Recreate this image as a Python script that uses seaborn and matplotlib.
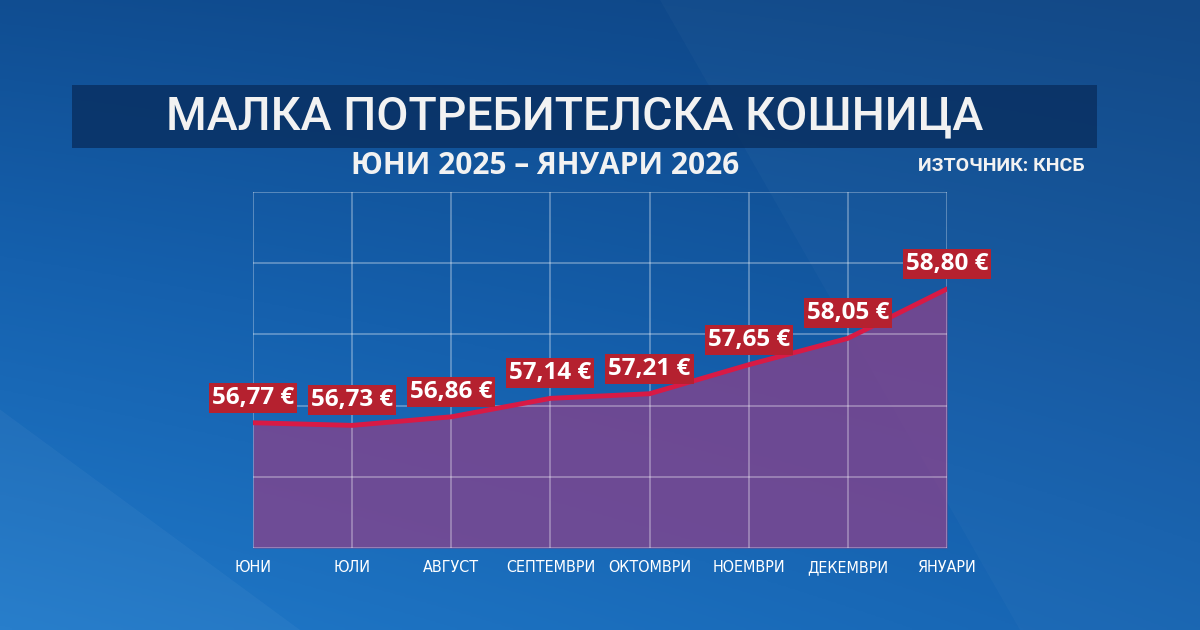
import numpy as np
import pandas as pd
import matplotlib.pyplot as plt
import matplotlib.patches as mpatches
from matplotlib.colors import LinearSegmentedColormap
import seaborn as sns

import warnings
warnings.filterwarnings("ignore")

# Data
months = ['ЮНИ', 'ЮЛИ', 'АВГУСТ', 'СЕПТЕМВРИ', 'ОКТОМВРИ', 'НОЕМВРИ', 'ДЕКЕМВРИ', 'ЯНУАРИ']
prices = [56.77, 56.73, 56.86, 57.14, 57.21, 57.65, 58.05, 58.80]
price_labels = ['56,77 €', '56,73 €', '56,86 €', '57,14 €', '57,21 €', '57,65 €', '58,05 €', '58,80 €']

title = 'МАЛКА ПОТРЕБИТЕЛСКА КОШНИЦА'
subtitle = 'ЮНИ 2025 – ЯНУАРИ 2026'
source = 'ИЗТОЧНИК: КНСБ'

df = pd.DataFrame({'idx': range(len(months)), 'month': months, 'price': prices})

sns.set_style('white')
plt.rcParams['font.family'] = ['Roboto', 'DejaVu Sans']

fig = plt.figure(figsize=(12, 6.3), dpi=100)

# Background gradient
bg = fig.add_axes([0, 0, 1, 1])
yy, xx = np.mgrid[0:1:200j, 0:1:400j]
t = 0.55 * yy + 0.25 * (1 - xx) * yy + 0.15 * (1 - xx)
cmap_bg = LinearSegmentedColormap.from_list('bg', ['#0e4585', '#1560ad', '#2079c9'])
bg.imshow(t, cmap=cmap_bg, aspect='auto', extent=[0, 1, 0, 1], origin='upper')
# faint facets
bg.add_patch(mpatches.Polygon([[0.55, 1], [0.85, 0.0], [1, 0.0], [1, 1]], closed=True,
                              color='white', alpha=0.025, lw=0))
bg.add_patch(mpatches.Polygon([[0, 0.35], [0.25, 0.0], [0, 0.0]], closed=True,
                              color='white', alpha=0.04, lw=0))
bg.set_xlim(0, 1)
bg.set_ylim(0, 1)
bg.axis('off')

# Title banner
bg.add_patch(mpatches.Rectangle((72 / 1200, 1 - 148 / 630), (1097 - 72) / 1200, 63 / 630,
                                color='#082c5c', alpha=0.75, lw=0))
bg.text(575 / 1200, 1 - 116 / 630, title, color='#f2f2f2', fontsize=33.5, fontweight='medium',
        ha='center', va='center')
bg.text(545 / 1200, 1 - 166 / 630, subtitle, color='#f2f2f2', fontsize=21.5, fontweight='bold',
        family=['Open Sans', 'DejaVu Sans'], ha='center', va='center')
bg.text(1085 / 1200, 1 - 166 / 630, source, color='#f2f2f2', fontsize=14, fontweight='bold',
        ha='right', va='center')

# Main chart
ax = fig.add_axes([253 / 1200, 1 - 548 / 630, (947 - 253) / 1200, (548 - 192) / 630])
ax.patch.set_alpha(0)
ymin, ymax = 54.87, 60.27
ax.set_xlim(0, len(months) - 1)
ax.set_ylim(ymin, ymax)

ax.fill_between(df['idx'], df['price'], ymin, color='#86438c', alpha=0.78, lw=0, zorder=1)
sns.lineplot(data=df, x='idx', y='price', ax=ax, color='#d81a45', lw=3.5, zorder=3)

ax.set_xticks(df['idx'])
ax.set_yticks(np.linspace(ymin, ymax, 6))
ax.grid(True, color='white', alpha=0.35, lw=1.2, zorder=2)
ax.set_axisbelow(False)
for s in ax.spines.values():
    s.set_visible(False)
ax.tick_params(length=0, labelleft=False)
ax.set_xticklabels(months, color='white', fontsize=11.5, family='DejaVu Sans',
                   fontstretch='condensed')
ax.tick_params(axis='x', pad=9)
ax.set_xlabel('')
ax.set_ylabel('')

for i, (p, lab) in enumerate(zip(prices, price_labels)):
    ax.annotate(lab, (i, p), xytext=(0, 18), textcoords='offset points',
                ha='center', va='center', color='white', fontsize=17.5, fontweight='bold',
                family=['Open Sans', 'DejaVu Sans'],
                bbox=dict(boxstyle='square,pad=0.12', fc='#b5212f', ec='none'),
                zorder=5, annotation_clip=False)

fig.savefig('out.png', dpi=100)
